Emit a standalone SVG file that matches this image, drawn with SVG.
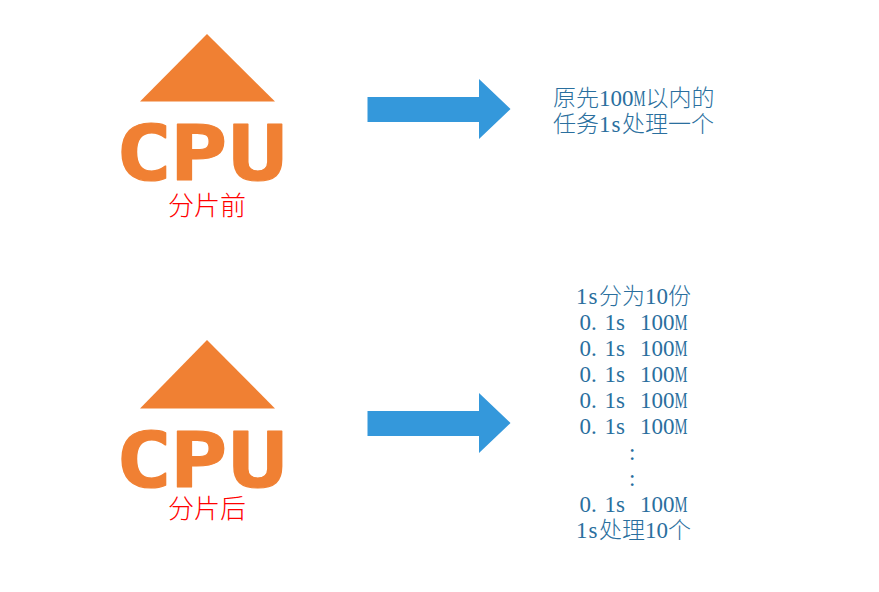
<svg xmlns="http://www.w3.org/2000/svg" width="879" height="592" viewBox="0 0 879 592">
  <style>
    .tri { fill: #f08033; }
    .logo { fill: #f08033; stroke: #f08033; stroke-width: 1.2px; stroke-linejoin: round; font-family: "DejaVu Sans Mono", monospace; font-weight: 700; font-size: 76px; }
    .cap { fill: #ff0000; font-family: "Noto Sans CJK SC", sans-serif; font-weight: 300; font-size: 26px; }
    .arrow { fill: #3498db; }
    .t { fill: #2a6f9e; font-size: 23px; font-family: "Noto Sans CJK SC", sans-serif; font-weight: 300; }
    .l { font-family: "Liberation Serif", serif; font-size: 23px; font-weight: 400; }
  </style>
  <rect width="879" height="592" fill="#ffffff"/>
  <g id="cpu-before">
    <polygon class="tri" points="207,34 275,101.500 140,101.500"/>
    <text class="logo" transform="translate(115 180) scale(1.26 1)" x="0 43.600 90.500">CPU</text>
    <text class="cap" x="168" y="215">分片前</text>
  </g>
  <g id="cpu-after">
    <polygon class="tri" points="207,340 275,408.500 140,408.500"/>
    <text class="logo" transform="translate(115 487) scale(1.26 1)" x="0 43.600 90.500">CPU</text>
    <text class="cap" x="168" y="518">分片后</text>
  </g>
  <g id="connectors">
    <polygon class="arrow" points="367.500,97 479,97 479,79 510.500,109 479,139 479,122 367.500,122"/>
    <polygon class="arrow" points="367.500,411 479,411 479,393 510.500,423 479,453 479,436 367.500,436"/>
  </g>
  <g id="result-before">
    <text class="t" y="106"><tspan x="553">原先</tspan><tspan class="l" x="599 610.500 622">100</tspan><tspan class="l" x="633.500" textLength="12" lengthAdjust="spacingAndGlyphs">M</tspan><tspan x="645.500">以内的</tspan></text>
    <text class="t" y="132"><tspan x="553">任务</tspan><tspan class="l" x="599 611.500">1s</tspan><tspan x="622">处理一个</tspan></text>
  </g>
  <g id="result-after">
    <text class="t" y="304"><tspan class="l" x="576 588.500">1s</tspan><tspan x="599">分为</tspan><tspan class="l" x="645 656.500">10</tspan><tspan x="668">份</tspan></text>
    <text class="t l" y="330" x="579.500 591 604.500 616 628 640 651.500 663">0.1s 100<tspan x="674.500" textLength="13" lengthAdjust="spacingAndGlyphs">M</tspan></text>
    <text class="t l" y="356" x="579.500 591 604.500 616 628 640 651.500 663">0.1s 100<tspan x="674.500" textLength="13" lengthAdjust="spacingAndGlyphs">M</tspan></text>
    <text class="t l" y="382" x="579.500 591 604.500 616 628 640 651.500 663">0.1s 100<tspan x="674.500" textLength="13" lengthAdjust="spacingAndGlyphs">M</tspan></text>
    <text class="t l" y="408" x="579.500 591 604.500 616 628 640 651.500 663">0.1s 100<tspan x="674.500" textLength="13" lengthAdjust="spacingAndGlyphs">M</tspan></text>
    <text class="t l" y="434" x="579.500 591 604.500 616 628 640 651.500 663">0.1s 100<tspan x="674.500" textLength="13" lengthAdjust="spacingAndGlyphs">M</tspan></text>
    <text class="t l" x="629" y="460">:</text>
    <text class="t l" x="629" y="486">:</text>
    <text class="t l" y="512" x="579.500 591 604.500 616 628 640 651.500 663">0.1s 100<tspan x="674.500" textLength="13" lengthAdjust="spacingAndGlyphs">M</tspan></text>
    <text class="t" y="538"><tspan class="l" x="576 588.500">1s</tspan><tspan x="599">处理</tspan><tspan class="l" x="645 656.500">10</tspan><tspan x="668">个</tspan></text>
  </g>
</svg>
